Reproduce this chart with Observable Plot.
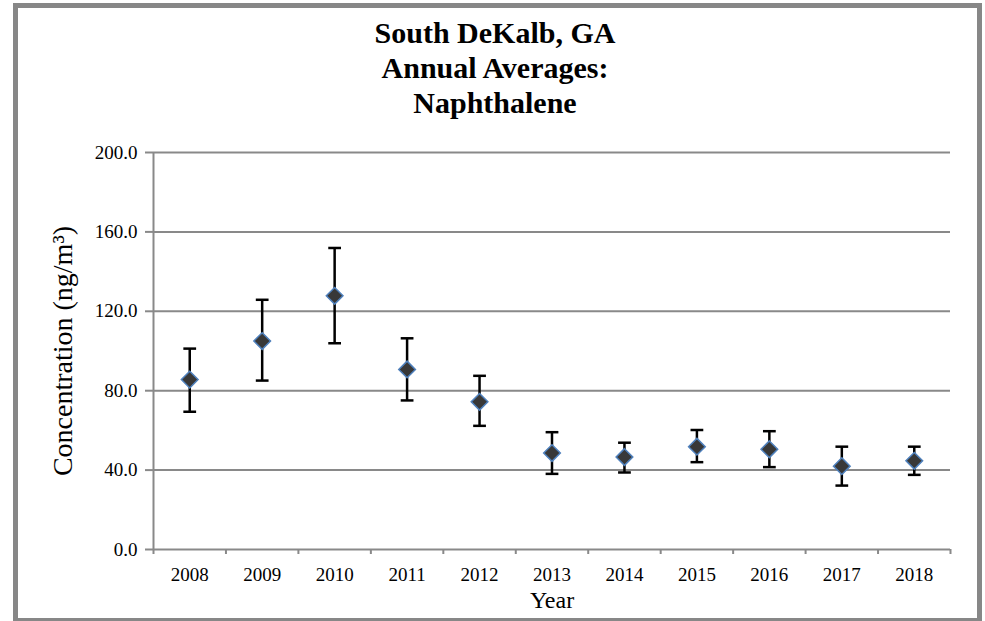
<!DOCTYPE html>
<html>
<head>
<meta charset="utf-8">
<script src="https://cdn.jsdelivr.net/npm/d3@7"></script>
<script src="https://cdn.jsdelivr.net/npm/@observablehq/plot@0.6"></script>
<style>
  body { margin: 0; background: #fff; }
  #wrap { position: relative; width: 985px; height: 621px; overflow: hidden; }
  #chart { position: absolute; left: 0; top: 0; }
  #border { position: absolute; left: 13px; top: 3px; width: 969px; height: 620px;
            border: 5px solid #878787; box-sizing: border-box; pointer-events: none; }
</style>
</head>
<body>
<div id="wrap"><div id="chart"></div><div id="border"></div></div>
<script>
// valores
const years = [2008, 2009, 2010, 2011, 2012, 2013, 2014, 2015, 2016, 2017, 2018]
const avg   = [85.6, 105.0, 127.8, 90.7, 74.4, 48.6, 46.6, 51.8, 50.5, 42.0, 44.7]
const low   = [69.4, 85.1, 103.9, 75.1, 62.3, 38.1, 38.8, 44.0, 41.5, 32.2, 37.6]
const high  = [101.2, 125.8, 151.9, 106.4, 87.5, 59.1, 53.8, 60.2, 59.6, 51.8, 51.8]
const yTicks = [0, 40, 80, 120, 160, 200]
const titleLines = ['South DeKalb, GA', 'Annual Averages:', 'Naphthalene']

const table = years.map((year, i) => ({ year, avg: avg[i], low: low[i], high: high[i] }))

// limites de cada categoria (marcas del eje x)
const xDomain = [years[0] - 0.5, years[years.length - 1] + 0.5]
const bounds = [...years.map(y => y - 0.5), xDomain[1]]

const gray = '#898989'
const serif = 'Liberation Serif'

// simbolo: linea horizontal para las barras de error
const cap = {
  draw(context, size) {
    const w = Math.sqrt(size)
    context.moveTo(-w, 0)
    context.lineTo(w, 0)
  }
}

let chart = Plot.plot({
  width: 985,
  height: 621,
  marginTop: 152,
  marginLeft: 153,
  marginRight: 35,
  marginBottom: 72,
  style: { fontFamily: serif, fontSize: '19px', color: '#000', background: 'transparent' },
  x: { type: 'linear', domain: xDomain, axis: null },
  y: { domain: [0, 200], axis: null },
  marks: [
    Plot.gridY(yTicks.slice(1), { stroke: gray, strokeOpacity: 1, strokeWidth: 2 }),
    Plot.ruleY([0], { stroke: gray, strokeWidth: 2 }),
    Plot.ruleX([xDomain[0]], { stroke: gray, strokeWidth: 2 }),
    Plot.axisY(yTicks, {
      tickSize: 8, tickPadding: 8, stroke: gray, strokeWidth: 2, fontFamily: serif,
      tickFormat: d => d.toFixed(1), label: null
    }),
    Plot.axisX(bounds, { tickSize: 5, stroke: gray, strokeWidth: 2, tickFormat: () => '', label: null }),
    Plot.axisX(years, { tickSize: 0, tickPadding: 18, fontFamily: serif, tickFormat: d => String(d), label: null }),
    Plot.ruleX(table, { x: 'year', y1: 'low', y2: 'high', stroke: 'black', strokeWidth: 2.5 }),
    Plot.dot(table, { x: 'year', y: 'low', symbol: cap, r: 3.6, fill: 'none', stroke: 'black', strokeWidth: 2.5 }),
    Plot.dot(table, { x: 'year', y: 'high', symbol: cap, r: 3.6, fill: 'none', stroke: 'black', strokeWidth: 2.5 }),
    Plot.dot(table, { x: 'year', y: 'avg', symbol: 'diamond2', r: 7.5, fill: '#383838', stroke: '#4f81bd', strokeWidth: 1.5 }),
    Plot.text([titleLines.join('\n')], {
      frameAnchor: 'top', lineAnchor: 'top', textAnchor: 'middle', dx: -57, dy: -135,
      fontFamily: serif, fontSize: 30, fontWeight: 'bold', lineHeight: 1.18, fill: 'black'
    }),
    Plot.text(['Concentration (ng/m³)'], {
      frameAnchor: 'left', textAnchor: 'middle', rotate: -90, dx: -90,
      fontFamily: serif, fontSize: 28, fill: 'black'
    }),
    Plot.text(['Year'], { frameAnchor: 'bottom', dy: 58, fontFamily: serif, fontSize: 24, fill: 'black' })
  ]
})

d3.select('#chart').append(() => chart)
</script>
</body>
</html>
